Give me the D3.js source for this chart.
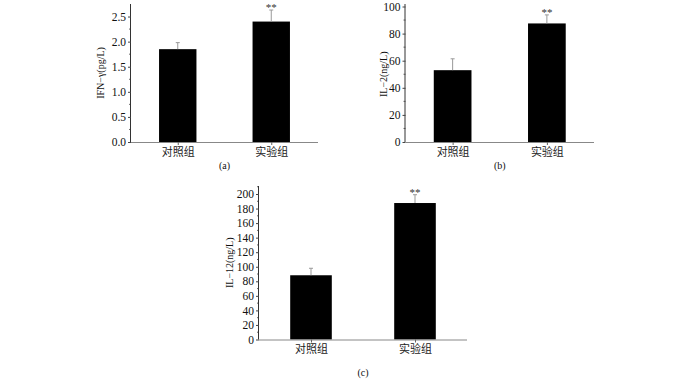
<!DOCTYPE html>
<html>
<head>
<meta charset="utf-8">
<script src="https://cdn.jsdelivr.net/npm/d3@7"></script>
<style>
  body { margin: 0; background: #fff; }
  svg { display: block; }
</style>
</head>
<body>
<script>
// groups and values
const groups = ['对照组', '实验组'];
const marks = ['', '**'];

const ifnValues = [1.85, 2.40];
const ifnErrors = [0.13, 0.23];
const ifnTicks = [0, 0.5, 1.0, 1.5, 2.0, 2.5];

const il2Values = [53, 87.5];
const il2Errors = [8.4, 6.3];
const il2Ticks = [0, 20, 40, 60, 80, 100];

const il12Values = [88.3, 187.6];
const il12Errors = [9.6, 11.4];
const il12Ticks = [0, 20, 40, 60, 80, 100, 120, 140, 160, 180, 200];

const svg = d3.select('body').append('svg')
    .attr('width', 700)
    .attr('height', 379);

const serif = '"Liberation Serif", "DejaVu Serif", serif';
const cjk = '"Noto Sans CJK SC", sans-serif';

// draw one bar panel
function drawPanel(opt) {
    const g = svg.append('g');

    const x = d3.scalePoint()
        .domain(groups)
        .range([opt.left, opt.right])
        .padding(0.5);
    const y = d3.scaleLinear()
        .domain([0, opt.yMax])
        .range([opt.bottom, opt.top]);
    const barW = (opt.right - opt.left) * 0.2;

    // minor ticks
    const step = opt.ticks[1] - opt.ticks[0];
    const minor = d3.range(step / 2, opt.yMax, step).filter(v => opt.ticks.indexOf(v) < 0);
    g.selectAll('.minor').data(minor).enter().append('line')
        .attr('x1', opt.left - 2).attr('x2', opt.left)
        .attr('y1', d => y(d)).attr('y2', d => y(d))
        .attr('stroke', '#444').attr('stroke-width', 0.8);

    // y axis
    const yAxis = g.append('g')
        .attr('transform', `translate(${opt.left},0)`)
        .call(d3.axisLeft(y).tickValues(opt.ticks).tickSize(3).tickPadding(2)
            .tickFormat(opt.fmt));
    yAxis.select('.domain').attr('stroke', '#333').attr('d', `M-0.5,${opt.bottom}V${opt.axisTop}`);
    yAxis.selectAll('.tick line').attr('stroke', '#444');
    yAxis.selectAll('text')
        .attr('font-family', serif).attr('font-size', 11.5).attr('fill', '#111');

    // bars
    g.selectAll('.bar').data(opt.values).enter().append('rect')
        .attr('x', (d, i) => x(groups[i]) - barW / 2)
        .attr('y', d => y(d))
        .attr('width', barW)
        .attr('height', d => y(0) - y(d))
        .attr('fill', '#000');

    // error bars
    g.selectAll('.err').data(opt.values).enter().append('line')
        .attr('x1', (d, i) => x(groups[i]))
        .attr('x2', (d, i) => x(groups[i]))
        .attr('y1', d => y(d))
        .attr('y2', (d, i) => y(d + opt.errors[i]))
        .attr('stroke', '#999').attr('stroke-width', 1);
    g.selectAll('.cap').data(opt.values).enter().append('line')
        .attr('x1', (d, i) => x(groups[i]) - 2)
        .attr('x2', (d, i) => x(groups[i]) + 2)
        .attr('y1', (d, i) => y(d + opt.errors[i]))
        .attr('y2', (d, i) => y(d + opt.errors[i]))
        .attr('stroke', '#999').attr('stroke-width', 1);

    // significance marks
    g.selectAll('.sig').data(opt.values).enter().append('text')
        .attr('x', (d, i) => x(groups[i]))
        .attr('y', (d, i) => y(d + opt.errors[i]) + 1)
        .attr('text-anchor', 'middle')
        .attr('font-family', serif).attr('font-size', 11).attr('fill', '#333')
        .text((d, i) => marks[i]);

    // x axis
    const xAxis = g.append('g')
        .attr('transform', `translate(0,${opt.bottom})`)
        .call(d3.axisBottom(x).tickSize(3).tickPadding(3));
    xAxis.select('.domain').attr('stroke', '#888').attr('d', `M${opt.left},0.5H${opt.right}`);
    xAxis.selectAll('.tick line').attr('stroke', '#666');
    xAxis.selectAll('text')
        .attr('font-family', cjk).attr('font-size', 11).attr('fill', '#222');

    // y title
    g.append('text')
        .attr('transform', `translate(${opt.titleX},${(opt.top + opt.bottom) / 2}) rotate(-90)`)
        .attr('text-anchor', 'middle')
        .attr('font-family', serif).attr('font-size', 10).attr('fill', '#111')
        .text(opt.title);

    // panel caption
    g.append('text')
        .attr('x', (opt.left + opt.right) / 2)
        .attr('y', opt.captionY)
        .attr('text-anchor', 'middle')
        .attr('font-family', serif).attr('font-size', 10).attr('fill', '#111')
        .text(opt.caption);
}

drawPanel({
    left: 131, right: 318, top: 4, axisTop: 4, bottom: 142, yMax: 2.75,
    values: ifnValues, errors: ifnErrors, ticks: ifnTicks,
    fmt: d3.format('.1f'), title: 'IFN−γ(pg/L)', titleX: 104,
    caption: '(a)', captionY: 169
});

drawPanel({
    left: 405.5, right: 594, top: 6.5, axisTop: 4, bottom: 142, yMax: 100,
    values: il2Values, errors: il2Errors, ticks: il2Ticks,
    fmt: d3.format('d'), title: 'IL−2(ng/L)', titleX: 387,
    caption: '(b)', captionY: 169
});

drawPanel({
    left: 259, right: 467, top: 186, axisTop: 186, bottom: 339.5, yMax: 211,
    values: il12Values, errors: il12Errors, ticks: il12Ticks,
    fmt: d3.format('d'), title: 'IL−12(ng/L)', titleX: 233,
    caption: '(c)', captionY: 376
});
</script>
</body>
</html>
